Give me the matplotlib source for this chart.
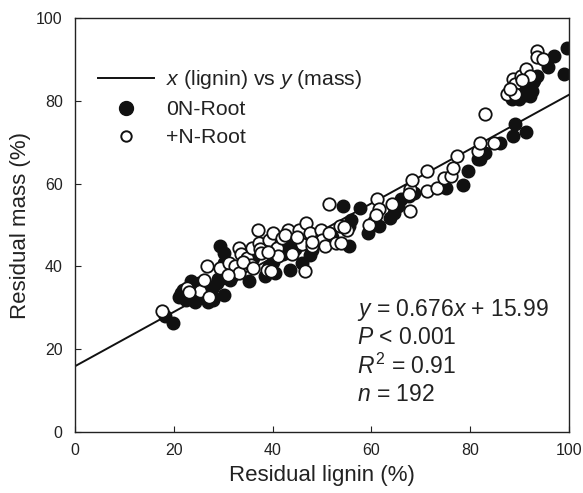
import matplotlib
matplotlib.use("Agg")
import matplotlib.pyplot as plt
from matplotlib.lines import Line2D
import numpy as np

plt.rcParams['font.family'] = ['Liberation Sans', 'DejaVu Sans']
plt.rcParams['mathtext.fontset'] = 'custom'
plt.rcParams['mathtext.it'] = 'Liberation Sans:italic'
plt.rcParams['mathtext.rm'] = 'Liberation Sans'

# 0N-Root (filled)
x_0n = [19.8, 18.2, 21.1, 21.9, 23.8, 24.2, 23.4, 26.8, 27.9, 27.2, 25.7, 30.2, 28.7, 29.4,
        30.2, 30.2, 31.3, 35.1, 38.5, 43.4, 44.5, 43.0, 47.5, 46.0, 39.2, 55.5, 54.3, 57.7,
        55.8, 55.5, 59.2, 61.5, 63.8, 65.3, 66.0, 68.7, 75.1, 78.5, 79.6, 81.5, 83.0, 86.0,
        88.7, 89.1, 91.3, 89.8, 90.6, 92.1, 93.6, 95.8, 96.9, 99.6, 98.9, 92.1, 92.8,
        21.5, 22.5, 24.5, 26.0, 27.5, 28.0, 29.0, 25.0, 31.7,
        36.0, 38.0, 40.0, 42.0, 45.0, 48.0, 50.0, 52.0, 40.5,
        88.5, 89.5, 90.0, 91.0, 91.5, 92.5, 93.0, 60.5, 64.5, 67.5, 82.0]
y_0n = [26.3, 28.0, 32.7, 34.4, 33.5, 31.5, 36.4, 31.5, 31.9, 34.4, 33.5, 33.1, 36.0, 44.9,
        43.2, 40.8, 36.8, 36.4, 37.6, 39.2, 44.1, 44.9, 42.8, 40.8, 40.0, 44.9, 54.6, 54.2,
        51.3, 49.7, 48.1, 49.7, 51.7, 54.6, 56.2, 57.8, 59.0, 59.8, 63.1, 65.9, 67.5, 69.9,
        71.5, 74.4, 72.4, 80.4, 82.1, 83.7, 86.1, 88.1, 90.9, 92.7, 86.5, 81.2, 84.5,
        33.5, 32.0, 35.0, 32.5, 33.0, 35.0, 37.0, 36.0, 37.6,
        42.0, 44.0, 41.0, 43.0, 45.0, 44.0, 46.0, 47.0, 38.5,
        80.5, 82.0, 83.0, 81.5, 84.0, 82.5, 85.0, 51.0, 53.0, 57.0, 66.0]

# +N-Root (open)
x_pn = [17.5, 22.6, 25.3, 26.0, 26.6, 29.4, 31.1, 32.3, 33.1, 33.1, 33.6, 34.7, 35.5, 35.8,
        37.0, 37.2, 37.5, 37.7, 38.9, 39.2, 39.6, 40.0, 40.8, 41.1, 41.9, 43.0, 45.3, 46.0,
        46.6, 46.8, 47.5, 47.9, 49.8, 50.0, 50.6, 51.3, 51.3, 52.8, 53.9, 53.6, 55.0, 59.5,
        61.1, 61.5, 64.2, 67.9, 67.9, 68.3, 71.3, 71.3, 73.2, 74.7, 76.2, 76.6, 77.4, 81.5,
        81.9, 83.0, 84.9, 87.5, 88.7, 89.1, 89.1, 90.2, 91.3, 92.1, 93.6, 93.6, 94.7,
        27.0, 23.0, 31.0, 34.0, 36.0, 44.0, 39.0, 48.0, 42.5, 45.0, 54.5, 61.0, 67.5, 88.0, 90.5]
y_pn = [29.3, 34.8, 34.0, 36.8, 40.0, 39.6, 40.8, 40.0, 38.4, 44.5, 42.9, 42.0, 40.4, 44.5,
        48.7, 45.7, 44.1, 43.2, 39.2, 46.5, 38.8, 48.1, 44.5, 42.4, 46.9, 48.9, 48.9, 45.3,
        38.8, 50.5, 48.1, 44.9, 48.9, 46.5, 44.9, 55.0, 48.1, 45.7, 45.7, 49.7, 48.9, 50.1,
        56.2, 53.8, 55.0, 53.4, 58.6, 61.0, 63.1, 58.2, 59.0, 61.4, 61.8, 63.9, 66.7, 67.9,
        69.9, 76.8, 69.9, 81.6, 85.3, 84.1, 81.6, 86.1, 87.7, 86.1, 92.2, 90.6, 90.1,
        32.5, 33.8, 38.0, 41.0, 39.5, 43.0, 43.5, 46.0, 47.5, 47.0, 49.5, 52.5, 57.5, 83.0, 85.0]

# regression line as drawn in the figure
line_x = [0, 100]
line_y = [15.9, 81.5]

ticks = [0, 20, 40, 60, 80, 100]
stats_text = [r'$y$ = 0.676$x$ + 15.99', r'$P$ < 0.001', r'$R^2$ = 0.91', r'$n$ = 192']

fig = plt.figure(figsize=(5.83, 4.93), dpi=100)
ax = fig.add_axes([0.129, 0.124, 0.847, 0.839])

ax.plot(line_x, line_y, color='#111111', lw=1.4, zorder=1)
ax.scatter(x_0n, y_0n, s=80, facecolor='#111111', edgecolor='#111111', lw=1.1, zorder=2)
ax.scatter(x_pn, y_pn, s=80, facecolor='white', edgecolor='#111111', lw=1.3, zorder=3)

ax.set_xlim(0, 100)
ax.set_ylim(0, 100)
ax.set_xticks(ticks)
ax.set_yticks(ticks)
ax.tick_params(direction='in', length=4, labelsize=11.5, colors='#222222')
ax.tick_params(axis='x', pad=8)
ax.tick_params(axis='y', pad=9)
for s in ax.spines.values():
    s.set_color('#222222')
    s.set_linewidth(1.0)
ax.set_xlabel('Residual lignin (%)', fontsize=16, color='#222222', labelpad=5)
ax.set_ylabel('Residual mass (%)', fontsize=16, color='#222222', labelpad=4)

handles = [Line2D([0], [0], color='#111111', lw=1.4),
           Line2D([0], [0], marker='o', ls='', markerfacecolor='#111111', markeredgecolor='#111111', markersize=10),
           Line2D([0], [0], marker='o', ls='', markerfacecolor='white', markeredgecolor='#111111', markersize=7.5, markeredgewidth=1.4)]
labels = [r'$x$ (lignin) vs $y$ (mass)', '0N-Root', '+N-Root']
leg = ax.legend(handles, labels, loc='upper left', bbox_to_anchor=(0.008, 0.925), frameon=False,
                fontsize=15.3, handlelength=2.6, handletextpad=0.6, labelspacing=0.42,
                labelcolor='#222222')

for i, t in enumerate(stats_text):
    ax.text(0.57, 0.295 - i * 0.068, t, transform=ax.transAxes, fontsize=16.5, color='#222222',
            va='center', ha='left')

fig.savefig('out.png', dpi=100)
